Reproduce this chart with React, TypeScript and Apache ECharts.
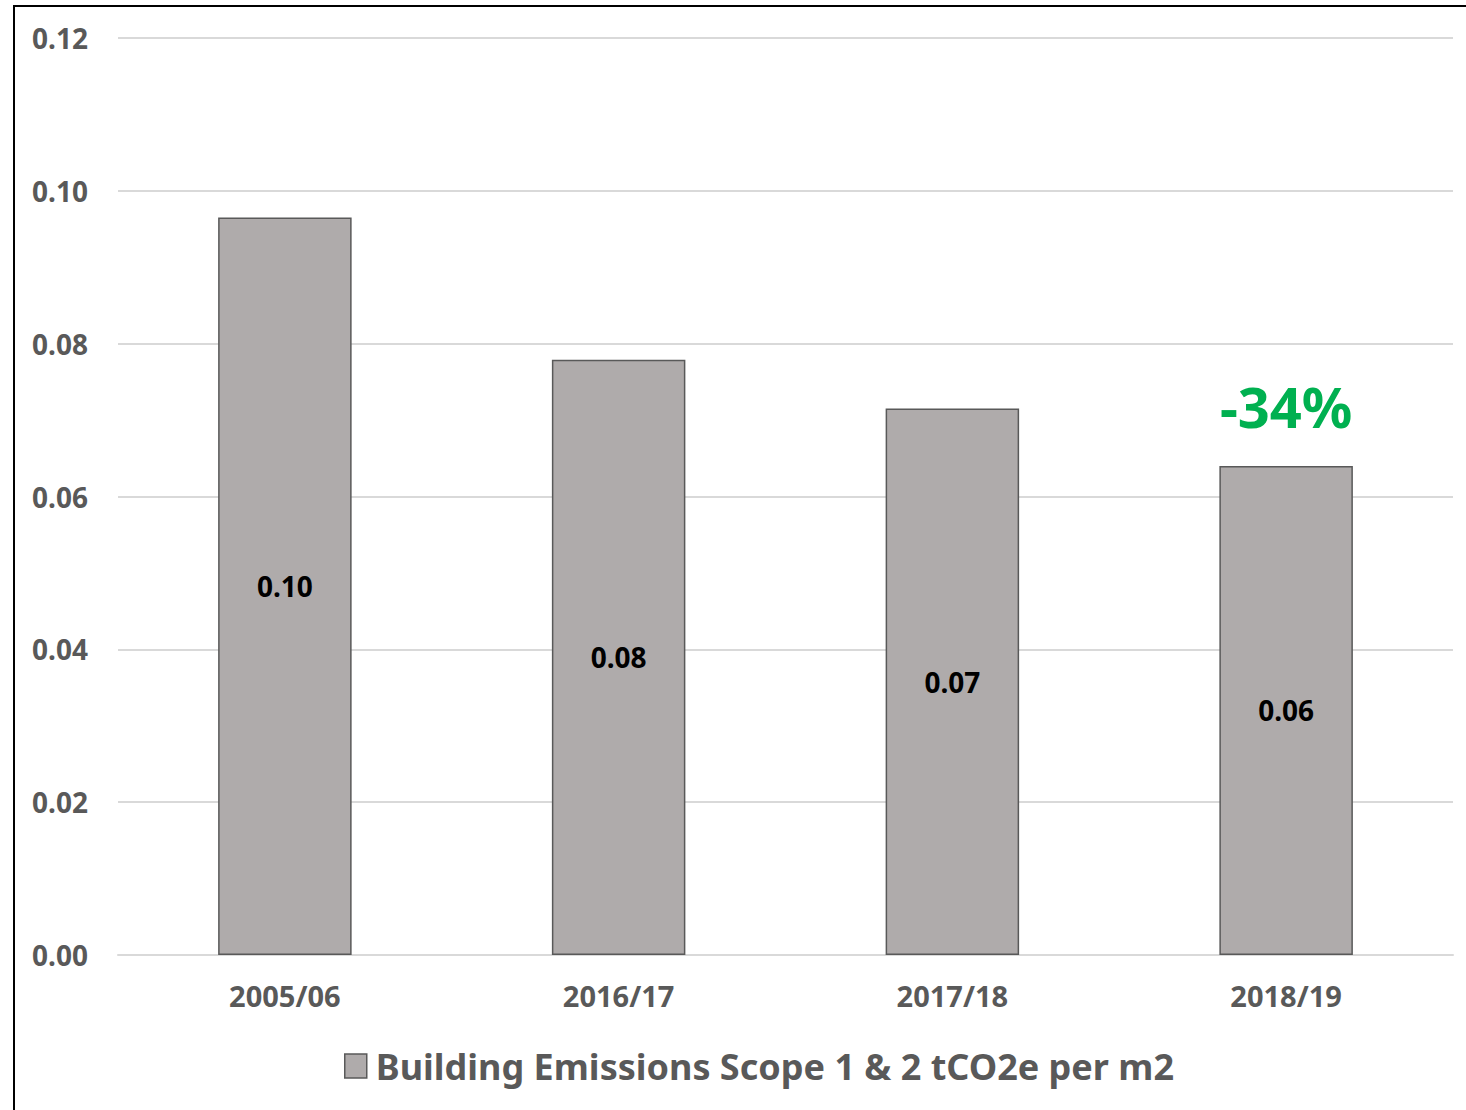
import React, { useEffect, useRef } from "react";
import * as echarts from "echarts";

const categories = ["2005/06", "2016/17", "2017/18", "2018/19"];
const emissions = [0.0965, 0.0779, 0.0715, 0.064];
const labelTexts = ["0.10", "0.08", "0.07", "0.06"];
const seriesName = "Building Emissions Scope 1 & 2 tCO2e per m2";
const changeLabel = "-34%";

const FONT = "'Noto Sans', 'Open Sans', sans-serif";

export default function App() {
  const ref = useRef<HTMLDivElement>(null);
  useEffect(() => {
    document.body.style.margin = "0";
    const chart = echarts.init(ref.current!, undefined, { renderer: "svg" });
    chart.setOption({
      animation: false,
      backgroundColor: "#ffffff",
      textStyle: { fontFamily: FONT },
      grid: { left: 118, right: 13, top: 38, bottom: 155 },
      graphic: [
        {
          type: "rect",
          shape: { x: 14, y: 6, width: 1470, height: 1130 },
          style: { fill: "none", stroke: "#000000", lineWidth: 2 },
          silent: true,
        },
      ],
      legend: {
        left: 339,
        top: 1043,
        icon: "rect",
        itemWidth: 22,
        itemHeight: 24,
        itemGap: 10,
        itemStyle: { borderColor: "#595959", borderWidth: 1.5 },
        textStyle: { color: "#595959", fontSize: 36, fontWeight: "bold", fontFamily: FONT, padding: [0, 0, 0, 4] },
        data: [seriesName],
      },
      xAxis: {
        type: "category",
        data: categories,
        axisLine: { show: true, lineStyle: { color: "#D9D9D9", width: 2 } },
        axisTick: { show: false },
        axisLabel: { color: "#595959", fontSize: 29, fontWeight: "bold", margin: 26, fontFamily: FONT },
      },
      yAxis: {
        type: "value",
        min: 0,
        max: 0.12,
        interval: 0.02,
        axisLine: { show: false },
        axisTick: { show: false },
        splitLine: { lineStyle: { color: "#D9D9D9", width: 2 } },
        axisLabel: {
          color: "#595959",
          fontSize: 28,
          fontWeight: "bold",
          margin: 30,
          fontFamily: FONT,
          formatter: (v: number) => v.toFixed(2),
        },
      },
      series: [
        {
          name: seriesName,
          type: "bar",
          data: emissions,
          barWidth: "40%",
          itemStyle: { color: "#AFABAB", borderColor: "#595959", borderWidth: 1.5 },
          label: {
            show: true,
            position: "inside",
            color: "#000000",
            fontSize: 28,
            fontWeight: "bold",
            fontFamily: FONT,
            formatter: (p: any) => labelTexts[p.dataIndex],
          },
          markPoint: {
            symbol: "circle",
            symbolSize: 0,
            silent: true,
            data: [
              {
                coord: [categories.length - 1, emissions[emissions.length - 1]],
                label: {
                  show: true,
                  formatter: changeLabel,
                  color: "#00B050",
                  fontSize: 56,
                  fontWeight: "bold",
                  fontFamily: FONT,
                  position: "top",
                  distance: 32,
                },
              },
            ],
          },
        },
      ],
    });
    return () => chart.dispose();
  }, []);
  return <div ref={ref} style={{ width: 1466, height: 1110 }} />;
}
